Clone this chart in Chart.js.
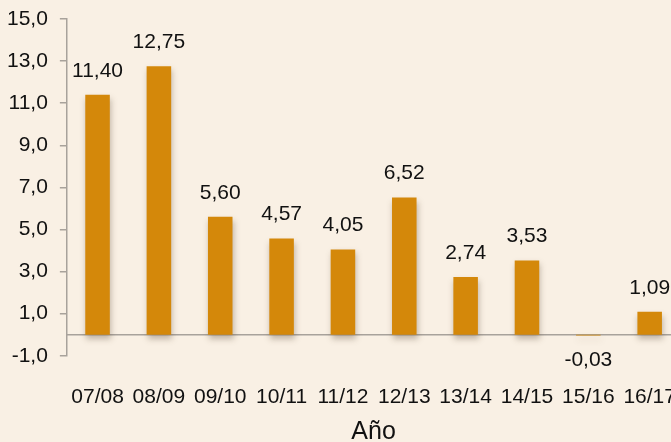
<!DOCTYPE html>
<html>
<head>
<meta charset="utf-8">
<script src="https://cdn.jsdelivr.net/npm/chart.js@4.4.0/dist/chart.umd.min.js"></script>
<style>
  html, body { margin: 0; padding: 0; overflow: hidden; background: #f9f0e4; }
  #wrap { width: 705px; height: 446px; }
</style>
</head>
<body>
<div id="wrap"><canvas id="chart"></canvas></div>
<script>
const years  = ['07/08', '08/09', '09/10', '10/11', '11/12', '12/13', '13/14', '14/15', '15/16', '16/17'];
const values = [11.40, 12.75, 5.60, 4.57, 4.05, 6.52, 2.74, 3.53, -0.03, 1.09];
const yMin = -1, yMax = 15, yStep = 2;
const axisTitle = 'Año';

const FONT = '"Liberation Sans", Arial, sans-serif';
const fmt = (v, d) => v.toFixed(d).replace('.', ',');

// linea del cero y etiquetas de valor
const extras = {
    id: 'extras',
    beforeDatasetsDraw(chart) {
        const ctx = chart.ctx;
        const y = chart.scales.y.getPixelForValue(0);
        ctx.save();
        ctx.strokeStyle = '#a8a29b';
        ctx.lineWidth = 1.5;
        ctx.beginPath();
        ctx.moveTo(chart.chartArea.left, y);
        ctx.lineTo(chart.chartArea.right, y);
        ctx.stroke();
        ctx.restore();
    },
    afterDatasetsDraw(chart) {
        const ctx = chart.ctx;
        const meta = chart.getDatasetMeta(0);
        ctx.save();
        ctx.font = '21px ' + FONT;
        ctx.fillStyle = '#111';
        ctx.textAlign = 'center';
        ctx.textBaseline = 'middle';
        meta.data.forEach((bar, i) => {
            const v = values[i];
            const y = v >= 0 ? bar.y - 24 : bar.y + 25;
            ctx.fillText(fmt(v, 2), bar.x, y);
        });
        ctx.restore();
    }
};

// sombra de las barras
const shadow = {
    id: 'shadow',
    beforeDatasetDraw(chart) {
        const ctx = chart.ctx;
        ctx.save();
        ctx.shadowColor = 'rgba(90,70,50,0.35)';
        ctx.shadowBlur = 6;
        ctx.shadowOffsetX = 1;
        ctx.shadowOffsetY = 4;
    },
    afterDatasetDraw(chart) {
        chart.ctx.restore();
    }
};

const ctx = document.getElementById('chart').getContext('2d');
new Chart(ctx, {
    type: 'bar',
    data: {
        labels: years,
        datasets: [{
            data: values,
            backgroundColor: '#d4880a',
            borderWidth: 0,
            categoryPercentage: 1,
            barPercentage: 0.4
        }]
    },
    options: {
        responsive: true,
        maintainAspectRatio: false,
        animation: false,
        layout: { padding: { top: 19, left: -5, right: 1, bottom: 0 } },
        plugins: {
            legend: { display: false },
            tooltip: { enabled: false }
        },
        scales: {
            y: {
                min: yMin,
                max: yMax,
                ticks: {
                    stepSize: yStep,
                    color: '#111',
                    padding: 12,
                    font: { size: 21, family: FONT, lineHeight: 0.6 },
                    callback: v => fmt(v, 1)
                },
                grid: { drawOnChartArea: false, drawTicks: true, tickLength: 7, color: '#a8a29b', lineWidth: 1.5 },
                border: { display: true, color: '#a8a29b', width: 1.5 }
            },
            x: {
                ticks: {
                    color: '#111',
                    padding: 29,
                    maxRotation: 0,
                    autoSkip: false,
                    font: { size: 21, family: FONT }
                },
                grid: { display: false, drawTicks: false },
                border: { display: false },
                title: {
                    display: true,
                    text: axisTitle,
                    color: '#111',
                    padding: { top: -22, bottom: -1 },
                    font: { size: 25, family: FONT }
                }
            }
        }
    },
    plugins: [extras, shadow]
});
</script>
</body>
</html>
